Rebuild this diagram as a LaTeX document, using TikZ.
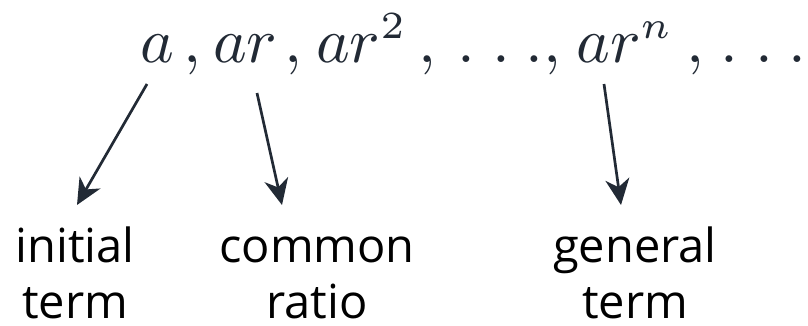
\documentclass[tikz,border=0pt]{standalone}
\usepackage[no-math]{fontspec}
\setmainfont{Open Sans}
\usetikzlibrary{arrows.meta}
\DeclareMathSizes{10}{10}{6}{5}
\definecolor{ink}{HTML}{222A35}
\newcommand{\seqpart}[1]{\scalebox{6.4}{$#1$}}
\begin{document}
\begin{tikzpicture}[x=1pt,y=-1pt,
  mathpart/.style={anchor=base west, inner sep=0pt, text=ink},
  lbl/.style={anchor=base, inner sep=0pt, text=black, text depth=0pt, font=\fontsize{47}{56}\selectfont},
  pointer/.style={draw=ink, line width=2.7pt, -{Stealth[length=26pt,width=24pt,inset=8pt]}}]
\useasboundingbox (0,0) rectangle (808,325);
% sequence
\node[mathpart] (m1) at (140,62) {\seqpart{a}};
\node[mathpart] (k1) at (183,62) {\seqpart{,}};
\node[mathpart] (m2) at (213,62) {\seqpart{ar}};
\node[mathpart] (k2) at (284,62) {\seqpart{,}};
\node[mathpart] (m3) at (316,62) {\seqpart{ar^{2}}};
\node[mathpart] (k3) at (418,62) {\seqpart{,}};
\node[mathpart] (d1) at (457,62) {\seqpart{.}};
\node[mathpart] (d2) at (492,62) {\seqpart{.}};
\node[mathpart] (d3) at (525,62) {\seqpart{.}};
\node[mathpart] (k4) at (543,62) {\seqpart{,}};
\node[mathpart] (m4) at (576,62) {\seqpart{ar^{n}}};
\node[mathpart] (k5) at (686,62) {\seqpart{,}};
\node[mathpart] (d4) at (720,62) {\seqpart{.}};
\node[mathpart] (d5) at (755,62) {\seqpart{.}};
\node[mathpart] (d6) at (788,62) {\seqpart{.}};
% labels
\node[lbl] (l1a) at (75,262) {initial};
\node[lbl] (l1b) at (75,318) {term};
\node[lbl] (l2a) at (317,262) {common};
\node[lbl] (l2b) at (317,318) {ratio};
\node[lbl] (l3a) at (635,262) {general};
\node[lbl] (l3b) at (635,318) {term};
% arrows
\coordinate (s1) at (147,84);
\coordinate (e1) at (77,205);
\coordinate (s2) at (257,93);
\coordinate (e2) at (282,205);
\coordinate (s3) at (604,84);
\coordinate (e3) at (621,205);
\draw[pointer] (s1) -- (e1);
\draw[pointer] (s2) -- (e2);
\draw[pointer] (s3) -- (e3);
\end{tikzpicture}
\end{document}
